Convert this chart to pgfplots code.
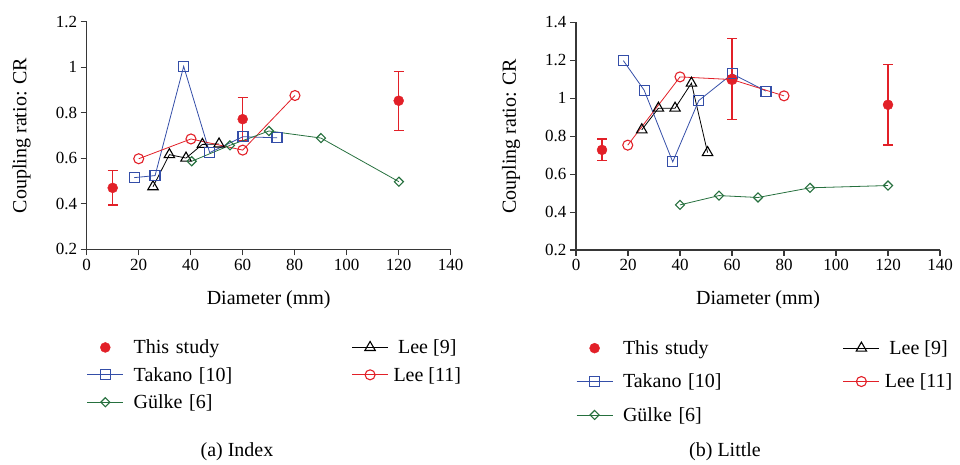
\documentclass[border=0pt]{standalone}
\usepackage{fontspec}
\setmainfont{Liberation Serif}
\usepackage{pgfplots}
\pgfplotsset{compat=1.18}

\definecolor{cred}{RGB}{226,32,40}
\definecolor{cblue}{RGB}{52,78,168}
\definecolor{cgreen}{RGB}{38,112,62}
\definecolor{caxis}{RGB}{55,55,55}

\newcommand\lfont{\rmfamily\fontsize{20}{24}\selectfont}
\newcommand\tfont{\rmfamily\fontsize{17}{20}\selectfont}

\pgfplotsset{
  crplot/.style={
    scale only axis, width=364pt, height=227.5pt,
    anchor=south west,
    axis lines=left, axis line style={-, caxis, line width=1.1pt},
    tick align=outside, major tick length=6pt,
    tick style={caxis, line width=1.1pt},
    xmin=0, xmax=140, xtick={0,20,...,140},
    tick label style={font=\tfont},
    /pgf/number format/assume math mode=true,
    label style={font=\lfont},
    xlabel={Diameter (mm)},
    ylabel={Coupling ratio: CR},
    xlabel style={at={(axis description cs:0.5,-0.22)}, anchor=center},
    ylabel style={at={(axis description cs:-0.1786,0.5)}, anchor=center},
    clip=false,
    legend columns=2,
    legend image code/.code={\draw[mark repeat=2,mark phase=2,##1]
      plot coordinates {(0pt,0pt) (18pt,0pt) (36pt,0pt)};},
    legend style={draw=none, fill=none, font=\lfont, inner sep=0pt,
      anchor=north west, at={(axis description cs:0,-0.388)},
      /tikz/column 1/.style={column sep=8pt},
      /tikz/column 3/.style={column sep=3pt}},
  },
  study/.style={only marks, mark=*, mark size=5pt, cred,
    mark options={fill=cred, draw=cred},
    error bars/.cd, y dir=both, y explicit,
    error bar style={cred, line width=1.2pt},
    error mark options={rotate=90, cred, mark size=5pt, line width=1.2pt}},
  takano/.style={cblue, line width=0.8pt, mark=square, mark size=5pt,
    mark options={fill=white, line width=1.2pt}},
  gulke/.style={cgreen, line width=0.8pt, mark=square, mark size=3.2pt,
    mark options={fill=white, line width=1.1pt, rotate=45}},
  leenine/.style={black, line width=0.8pt, mark=triangle, mark size=6pt,
    mark options={fill=white, line width=1.1pt}},
  leeeleven/.style={cred, line width=0.8pt, mark=o, mark size=5pt,
    mark options={fill=white, line width=1.1pt}},
}

\begin{document}
\begin{tikzpicture}
\path[use as bounding box] (0,0) rectangle (960pt,465pt);

% (a) Index
\begin{axis}[crplot, at={(86.7pt,215.7pt)},
  ymin=0.2, ymax=1.2, ytick={0.2,0.4,...,1.2},
  legend style={row sep=8pt, /tikz/column 2/.style={nodes={text width=216pt}}}]
\addplot[study] coordinates {
  (10,0.470) +- (0,0.075)
  (60,0.772) +- (0,0.094)
  (120,0.853) +- (0,0.130)
};
\addlegendentry{This study}
\addplot[leenine] coordinates {
  (25.5,0.475) (31.8,0.616) (38.2,0.601) (44.5,0.661) (50.9,0.663)
};
\addlegendentry{Lee [9]}
\addplot[takano] coordinates {
  (18.3,0.515) (26.3,0.524) (37.3,1.004) (47.3,0.625) (60.1,0.695) (73.2,0.690)
};
\addlegendentry{Takano [10]}
\addplot[leeeleven] coordinates {
  (20,0.598) (40.1,0.685) (60,0.636) (80.1,0.876)
};
\addlegendentry{Lee [11]}
\addplot[gulke] coordinates {
  (40.4,0.587) (55.1,0.657) (70.1,0.720) (90.1,0.689) (120.1,0.497)
};
\addlegendentry{Gülke [6]}
\end{axis}

% (b) Little
\begin{axis}[crplot, at={(576pt,215pt)},
  ymin=0.2, ymax=1.4, ytick={0.2,0.4,...,1.4},
  legend style={row sep=14pt, /tikz/column 2/.style={nodes={text width=218pt}}}]
\addplot[study] coordinates {
  (10,0.728) +- (0,0.058)
  (60,1.102) +- (0,0.214)
  (120,0.966) +- (0,0.212)
};
\addlegendentry{This study}
\addplot[leenine] coordinates {
  (25.3,0.834) (31.7,0.948) (38.1,0.948) (44.4,1.080) (50.6,0.714)
};
\addlegendentry{Lee [9]}
\addplot[takano] coordinates {
  (18.2,1.199) (26.2,1.043) (37.2,0.665) (47.2,0.988) (60.1,1.129) (73.1,1.038)
};
\addlegendentry{Takano [10]}
\addplot[leeeleven] coordinates {
  (19.9,0.753) (40,1.113) (60,1.099) (80,1.013)
};
\addlegendentry{Lee [11]}
\addplot[gulke] coordinates {
  (40,0.438) (55,0.487) (70,0.477) (90,0.528) (120,0.540)
};
\addlegendentry{Gülke [6]}
\end{axis}

\node[font=\lfont] at (237pt,13pt) {(a) Index};
\node[font=\lfont] at (725pt,13pt) {(b) Little};
\end{tikzpicture}
\end{document}
